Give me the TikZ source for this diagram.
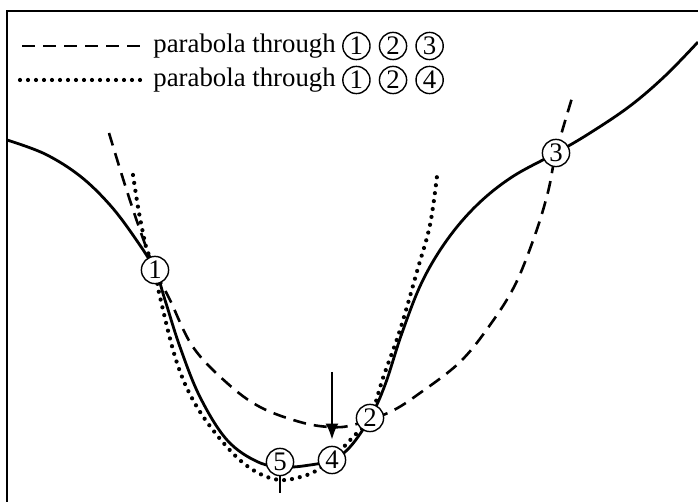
\documentclass[tikz,border=0pt]{standalone}
\usepackage{fontspec}
\setmainfont{Liberation Serif}
\usetikzlibrary{arrows.meta,positioning}

\begin{document}
\begin{tikzpicture}[x=0.5pt, y=-0.5pt, font=\fontsize{13.4}{15}\selectfont, node distance=4pt]
  \tikzstyle{mark pt}=[draw, circle, fill=white, line width=0.7pt, inner sep=0pt, minimum size=13.6pt]
  \tikzstyle{curve}=[line width=1.4pt]
  \tikzstyle{fit123}=[line width=1.3pt, dash pattern=on 6.5pt off 4pt]
  \tikzstyle{fit124}=[line width=2.1pt, line cap=round, dash pattern=on 0pt off 4pt]
  \useasboundingbox (0,0) rectangle (698,502);
  % frame
  \draw[line width=1.1pt] (7,502) -- (7,11) -- (698,11);
  % legend
  \draw[fit123] (22,46) -- (142,46);
  \draw[fit124] (20,80) -- (142,80);
  \node[anchor=west, inner sep=1pt] (leg1) at (151,46) {parabola through};
  \node[mark pt, right=2pt of leg1] (leg1a) {1};
  \node[mark pt, right=of leg1a] (leg1b) {2};
  \node[mark pt, right=of leg1b] (leg1c) {3};
  \node[anchor=west, inner sep=1pt] (leg2) at (151,80) {parabola through};
  \node[mark pt, right=2pt of leg2] (leg2a) {1};
  \node[mark pt, right=of leg2a] (leg2b) {2};
  \node[mark pt, right=of leg2b] (leg2c) {4};
  % the function
  \draw[curve] plot[smooth, tension=0.6] coordinates {(7,140) (45,154) (80,176) (110,205) (135,238) (155,270) (165,300) (180,347) (200,397) (227,440) (258,462) (285,467) (310,465) (332,460) (350,447) (370,418) (385,385) (402,333) (422,282) (447,240) (477,205) (512,177) (556,153) (590,133) (630,106) (665,76) (698,42)};
  % parabola through 1 2 3
  \draw[fit123] plot[smooth, tension=0.6] coordinates {(109,133) (125,185) (140,230) (155,270) (170,300) (193,347) (227,383) (260,407) (300,422) (330,427) (353,425) (390,412) (420,393) (460,362) (490,325) (515,285) (535,235) (548,192) (556,153) (572,98)};
  % parabola through 1 2 4
  \draw[fit124] plot[smooth, tension=0.6] coordinates {(133,175) (138,207) (143,233) (147,250) (155,270) (160,297) (177,363) (197,407) (227,447) (253,470) (280,480) (307,475) (320,468) (332,459) (353,437) (370,418) (383,378) (400,330) (418,268) (430,225) (437,176)};
  % points
  \node[mark pt] (p1) at (155,270) {1};
  \node[mark pt] (p2) at (370,418) {2};
  \node[mark pt] (p3) at (556,153) {3};
  \node[mark pt] (p4) at (332,460) {4};
  \node[mark pt] (p5) at (280,462) {5};
  \coordinate (arrtop) at (332,372);
  \coordinate (tickend) at (280,493);
  \draw[line width=1.3pt, -{Latex[length=8pt, width=6.5pt]}, shorten >=3pt] (arrtop) -- (p4.north);
  \draw[line width=0.7pt] (p5.south) -- (tickend);
\end{tikzpicture}
\end{document}
